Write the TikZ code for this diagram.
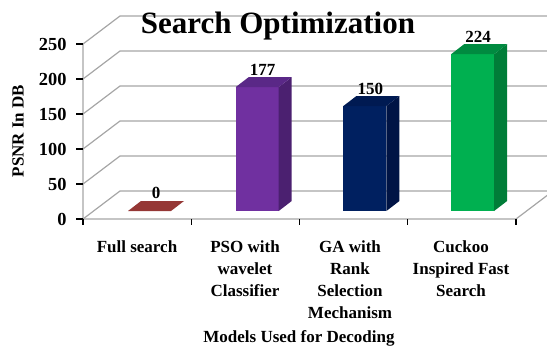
\documentclass[tikz,border=0pt]{standalone}
\usepackage{fontspec}
\setmainfont{Liberation Serif}

\definecolor{fulltop}{HTML}{953735}
\definecolor{psofront}{HTML}{7030A0}
\definecolor{psoside}{HTML}{4B2070}
\definecolor{psotop}{HTML}{5A2887}
\definecolor{gafront}{HTML}{002060}
\definecolor{gaside}{HTML}{001445}
\definecolor{gatop}{HTML}{001A52}
\definecolor{ckfront}{HTML}{00B050}
\definecolor{ckside}{HTML}{007D38}
\definecolor{cktop}{HTML}{008A40}
\definecolor{gridgray}{HTML}{A6A6A6}

\begin{document}
\begin{tikzpicture}[x=0.5pt,y=-0.5pt,
    grid/.style={draw=gridgray, line width=0.6pt},
    tick/.style={draw=black, line width=0.6pt},
    lbl/.style={font=\fontsize{8.5}{11}\selectfont\bfseries, inner sep=0pt},
    ticklbl/.style={font=\fontsize{9.2}{11}\selectfont\bfseries, inner sep=0pt}]
        \clip (0,0) rectangle (547,349);

        % Walls and grid lines (left wall diagonals + back wall)
        \foreach \v in {0,50,...,250} {
            \draw [grid] (83,{219-0.7*\v}) -- (120,{191-0.7*\v}) -- (553,{191-0.7*\v});
        }
        % Front axis and floor
        \draw [grid] (83,44) -- (83,219) -- (516,219) -- (553,191);

        % Value axis ticks and labels
        \foreach \v in {0,50,...,250} {
            \draw [tick] (76,{219-0.7*\v}) -- (83,{219-0.7*\v});
            \node [ticklbl, anchor=east] (t\v) at (67,{219-0.7*\v}) {\v};
        }
        % Category axis ticks
        \foreach \i in {0,...,4} {
            \draw [tick] ({83+108.25*\i},219) -- ({83+108.25*\i},225);
        }

        % Full search: flat bar at zero
        \fill [fulltop] (128,211) -- (141,201) -- (184,201) -- (171,211) -- cycle;
        \node [lbl, anchor=base] (v0) at (156,198) {0};

        % The three standing bars
        \foreach \i/\val/\fc/\sc/\tc in {1/177/psofront/psoside/psotop,
                                         2/150/gafront/gaside/gatop,
                                         3/224/ckfront/ckside/cktop} {
            \pgfmathsetmacro{\L}{128+107.7*\i}
            \pgfmathsetmacro{\H}{211-0.7*\val}
            \fill [\fc] (\L,211) rectangle ({\L+43},\H);
            \fill [\sc] ({\L+43},211) -- ({\L+56},201) -- ({\L+56},{\H-10}) -- ({\L+43},\H) -- cycle;
            \fill [\tc] (\L,\H) -- ({\L+13},{\H-10}) -- ({\L+56},{\H-10}) -- ({\L+43},\H) -- cycle;
            \node [lbl, anchor=base] (v\i) at ({\L+27},{\H-12}) {\val};
        }

        % Title
        \node [font=\fontsize{15.5}{18}\selectfont\bfseries, inner sep=0pt] (title) at (278,26) {Search Optimization};

        % Category labels
        \node [lbl, align=center, anchor=north] (cat1) at (137,240) {Full search};
        \node [lbl, align=center, anchor=north] (cat2) at (245,240) {PSO with\\wavelet\\Classifier};
        \node [lbl, align=center, anchor=north] (cat3) at (350,240) {GA with\\Rank\\Selection\\Mechanism};
        \node [lbl, align=center, anchor=north] (cat4) at (461,240) {Cuckoo\\Inspired Fast\\Search};

        % Axis titles
        \node [lbl, rotate=90] (ylab) at (18,131) {PSNR In DB};
        \node [lbl] (xlab) at (299,338) {Models Used for Decoding};
    \end{tikzpicture}
\end{document}
